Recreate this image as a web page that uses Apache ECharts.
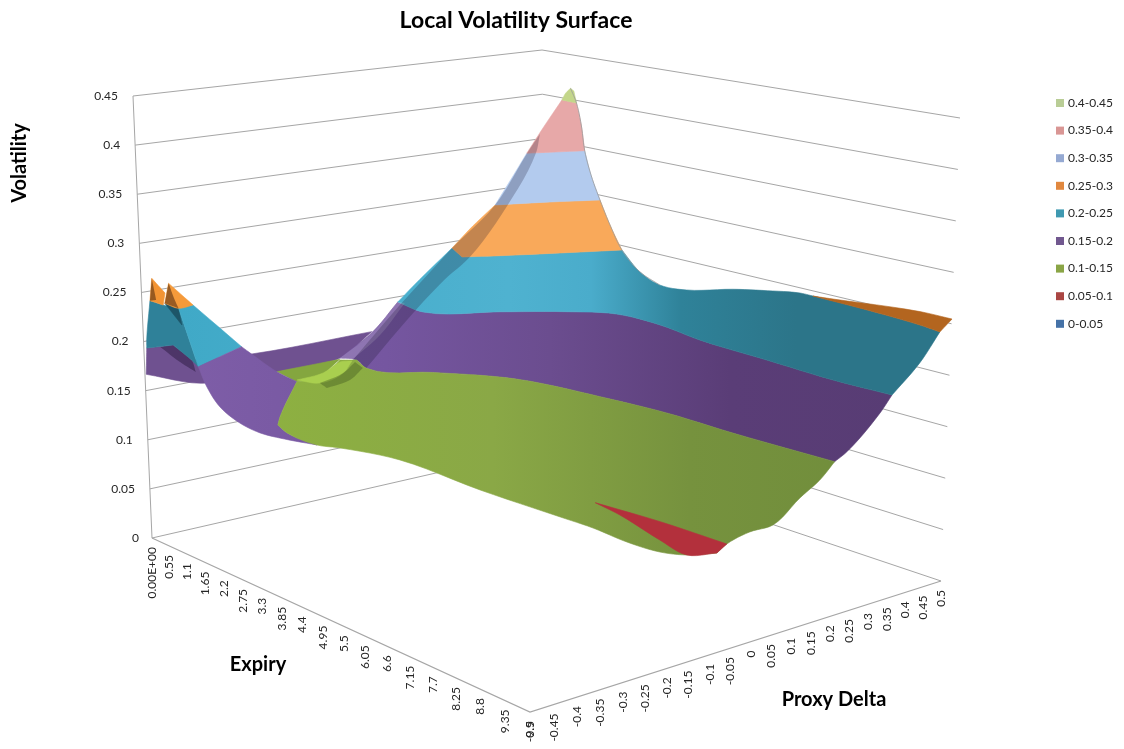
<!DOCTYPE html>
<html><head><meta charset="utf-8"><style>html,body{margin:0;padding:0;background:#fff}#c{width:1124px;height:749px}</style>
<script src="https://cdn.jsdelivr.net/npm/echarts@6/dist/echarts.min.js"></script></head>
<body><div id="c"></div><script>
// ---- axis ticks ----
const expiryLabels=['0.00E+00','0.55','1.1','1.65','2.2','2.75','3.3','3.85','4.4','4.95','5.5','6.05','6.6','7.15','7.7','8.25','8.8','9.35','9.9'];
const deltaLabels=['-0.5','-0.45','-0.4','-0.35','-0.3','-0.25','-0.2','-0.15','-0.1','-0.05','0','0.05','0.1','0.15','0.2','0.25','0.3','0.35','0.4','0.45','0.5'];
const volLabels=['0','0.05','0.1','0.15','0.2','0.25','0.3','0.35','0.4','0.45'];
const bandNames=['0.4-0.45','0.35-0.4','0.3-0.35','0.25-0.3','0.2-0.25','0.15-0.2','0.1-0.15','0.05-0.1','0-0.05'];
const bandColors=['#b9cd96','#d99694','#95a9d2','#e1883f','#3f99b1','#71588f','#8aa546','#aa4643','#4572a7'];
// ---- surface regions, each vertex is [expiry, proxy delta, volatility] ----
const rearStrip=[[0.41,-0.522,.2],[0.20,-0.511,.17],[0.72,-0.427,.16],[0.33,-0.224,.15],[0.24,-0.063,.15],[-0.14,0.049,.165],[0.71,-0.310,.18],[1.54,-0.506,.2],[0.51,-0.471,.2]];
const rearShadow=[[0.49,-0.498,.2],[0.51,-0.471,.2],[1.54,-0.506,.2],[1.68,-0.508,.19],[0.98,-0.491,.19]];
const backWingTeal=[[0.60,-0.524,.25],[1.00,-0.524,.25],[1.35,-0.516,.25],[1.97,-0.523,.2],[1.54,-0.506,.2],[0.51,-0.471,.2],[0.41,-0.522,.2],[0.52,-0.529,.21]];
const backWingOrange=[[0.47,-0.509,.27],[0.60,-0.524,.25],[1.00,-0.524,.25],[0.90,-0.512,.26]];
const backWingShade=[[0.47,-0.509,.27],[0.60,-0.524,.25],[0.62,-0.512,.25]];
const wingTealShade=[[0.91,-0.514,.25],[1.35,-0.516,.25],[1.18,-0.498,.23]];
const wingOrange=[[0.64,-0.485,.265],[1.30,-0.481,.25],[1.35,-0.516,.25],[0.91,-0.514,.25]];
const wingOrangeShade=[[0.64,-0.485,.265],[0.81,-0.485,.25],[1.35,-0.516,.25],[0.91,-0.514,.25]];
const wingTeal=[[1.35,-0.516,.25],[1.30,-0.481,.25],[1.31,-0.378,.2],[1.97,-0.523,.2]];
const wingPurple=[[1.31,-0.378,.2],[1.27,-0.353,.19],[1.41,-0.308,.17],[1.10,-0.238,.15],[2.73,-0.406,.15],[3.11,-0.441,.15],[3.58,-0.458,.15],[4.19,-0.442,.145],[3.84,-0.484,.15],[3.41,-0.503,.152],[3.14,-0.525,.16],[2.67,-0.531,.17],[2.31,-0.531,.185],[1.97,-0.523,.2]];
const backGreen=[[0.33,-0.224,.15],[0.31,-0.070,.15],[1.03,-0.178,.15],[1.10,-0.238,.15]];
const mainPurple=[[0.24,-0.063,.15],[0.44,0.003,.175],[0.33,0.077,.2],[1.22,0.063,.2],[2.05,0.184,.2],[2.78,0.289,.2],[3.46,0.353,.2],[4.53,0.357,.2],[5.73,0.332,.2],[7.39,0.321,.2],[8.94,0.310,.2],[10.13,0.315,.2],[10.10,0.289,.185],[10.05,0.212,.155],[10.10,0.175,.15],[8.00,0.165,.15],[6.48,0.165,.15],[5.05,0.146,.15],[3.61,0.118,.15],[3.01,0.091,.15],[2.06,0.012,.15],[1.11,-0.071,.15],[0.54,-0.047,.15]];
const mainTeal=[[0.33,0.077,.2],[0.91,0.084,.23],[0.43,0.211,.25],[1.14,0.172,.25],[1.48,0.240,.25],[1.97,0.352,.25],[2.47,0.470,.25],[2.65,0.501,.226],[3.23,0.495,.218],[3.93,0.494,.22],[5.06,0.496,.2325],[5.90,0.494,.24],[6.68,0.492,.246],[7.17,0.468,.25],[8.42,0.462,.25],[9.64,0.448,.25],[10.14,0.436,.25],[10.16,0.382,.225],[10.13,0.315,.2],[8.94,0.310,.2],[7.39,0.321,.2],[5.73,0.332,.2],[4.53,0.357,.2],[3.46,0.353,.2],[2.78,0.289,.2],[2.05,0.184,.2],[1.22,0.063,.2]];
const rightOrange=[[7.17,0.468,.25],[7.63,0.467,.252],[9.31,0.491,.256],[9.92,0.498,.255],[10.14,0.436,.25],[9.64,0.448,.25],[8.42,0.462,.25]];
const mainOrange=[[0.43,0.211,.25],[0.73,0.239,.275],[1.12,0.262,.3],[1.52,0.370,.3],[1.94,0.464,.3],[2.20,0.465,.275],[2.47,0.470,.25],[1.97,0.352,.25],[1.48,0.240,.25],[1.14,0.172,.25]];
const peakBlue=[[1.12,0.262,.3],[1.08,0.309,.325],[1.03,0.356,.35],[1.25,0.411,.35],[1.48,0.469,.35],[1.68,0.466,.325],[1.94,0.464,.3],[1.52,0.370,.3]];
const peakPink=[[1.03,0.356,.35],[0.93,0.412,.375],[0.75,0.480,.4],[1.18,0.477,.4],[1.19,0.489,.375],[1.48,0.469,.35],[1.25,0.411,.35]];
const peakTip=[[0.75,0.480,.4],[0.97,0.469,.41],[1.01,0.478,.415],[0.88,0.500,.41],[1.18,0.477,.4]];
const mainGreen=[[1.10,-0.238,.15],[1.15,-0.197,.15],[0.81,-0.135,.15],[0.35,-0.073,.15],[0.54,-0.047,.15],[1.11,-0.071,.15],[2.06,0.012,.15],[3.01,0.091,.15],[3.61,0.118,.15],[5.05,0.146,.15],[6.48,0.165,.15],[8.00,0.165,.15],[10.10,0.175,.15],[10.04,0.146,.135],[9.99,0.103,.122],[10.14,0.020,.108],[10.01,-0.021,.104],[10.05,-0.080,.1],[10.11,-0.110,.096],[10.04,-0.172,.1],[9.88,-0.216,.105],[9.43,-0.243,.11],[8.83,-0.257,.115],[8.33,-0.280,.12],[6.76,-0.308,.125],[5.19,-0.345,.135],[4.31,-0.402,.14],[4.19,-0.442,.145],[3.58,-0.458,.15],[3.11,-0.441,.15],[2.73,-0.406,.15]];
const lowRed=[[7.33,-0.099,.1],[8.66,-0.084,.1],[10.05,-0.080,.1],[10.11,-0.110,.096],[10.04,-0.172,.1],[9.29,-0.153,.1],[8.03,-0.113,.1]];
const foldLight=[[1.01,-0.230,.15],[0.90,-0.159,.15],[0.47,-0.082,.15],[0.54,-0.059,.15],[1.12,-0.129,.15],[1.41,-0.209,.15]];
const foldDark=[[0.63,-0.059,.15],[1.05,-0.075,.15],[1.57,-0.150,.15],[1.75,-0.220,.15],[1.41,-0.209,.15],[1.12,-0.129,.15]];
const ridgeLight=[[0.24,-0.063,.15],[0.46,0.002,.175],[0.33,0.077,.2],[0.47,0.083,.2],[0.71,-0.002,.175],[0.48,-0.054,.15]];
const ridgeDark=[[0.54,-0.059,.15],[0.54,0.064,.2],[0.55,0.142,.23],[0.43,0.211,.25],[1.12,0.262,.3],[1.04,0.356,.35],[1.09,0.386,.37],[1.11,0.373,.35],[1.26,0.282,.3],[1.23,0.184,.25],[1.22,0.118,.23],[1.12,0.049,.2],[1.09,-0.070,.15]];
const peakEdge=[[1.01,0.478,.415],[1.18,0.477,.4],[1.19,0.489,.375],[1.48,0.469,.35],[1.68,0.466,.325],[1.94,0.464,.3],[2.20,0.465,.275],[2.47,0.470,.25],[2.65,0.501,.226],[3.23,0.495,.218]];

// ---- view: corners of the box on the page (floor and 0.45 plane) ----
const floorQuad=[[152,538],[530,712],[941,581],[545,448]], topQuad=[[133,96],[528,185],[960,118],[542,50]];
const EXP_MAX=9.9, VOL_MAX=0.45;
function hom(q){const[x0,y0]=q[0],[x1,y1]=q[1],[x2,y2]=q[2],[x3,y3]=q[3];const dx1=x1-x2,dx2=x3-x2,sx=x0-x1+x2-x3,dy1=y1-y2,dy2=y3-y2,sy=y0-y1+y2-y3;const D=dx1*dy2-dx2*dy1,g=(sx*dy2-dx2*sy)/D,h=(dx1*sy-sx*dy1)/D;const a=x1-x0+g*x1,b=x3-x0+h*x3,d=y1-y0+g*y1,e=y3-y0+h*y3;return(u,v)=>{const w=g*u+h*v+1;return[(a*u+b*v+x0)/w,(d*u+e*v+y0)/w]}}
const H0=hom(floorQuad),H1=hom(topQuad);
function project(exp,delta,vol){const u=exp/EXP_MAX,v=delta+.5,t=vol/VOL_MAX,p=H0(u,v),q=H1(u,v);return[p[0]*(1-t)+q[0]*t,p[1]*(1-t)+q[1]*t]}

// round the outline through its vertices, keeping real corners sharp
function unit(a,b){const x=b[0]-a[0],y=b[1]-a[1],l=Math.hypot(x,y)||1;return[x/l,y/l,l]}
function smoothOutline(P,closed){
 const n=P.length,COS=Math.cos(38*Math.PI/180),tan=[];
 for(let i=0;i<n;i++){
  if(!closed&&(i===0||i===n-1)){tan.push(null);continue}
  const a=unit(P[(i-1+n)%n],P[i]),b=unit(P[i],P[(i+1)%n]);
  if(a[0]*b[0]+a[1]*b[1]<COS){tan.push(null);continue}
  const s=unit([0,0],[a[0]+b[0],a[1]+b[1]]);tan.push([s[0],s[1]]);
 }
 const out=[],STEPS=6,edges=closed?n:n-1;
 for(let i=0;i<edges;i++){
  const p=P[i],j=(i+1)%n,q=P[j],e=unit(p,q),L=e[2],m0=tan[i]||e,m1=tan[j]||e;
  for(let s=0;s<STEPS;s++){const t=s/STEPS,t2=t*t,t3=t2*t,h00=2*t3-3*t2+1,h10=t3-2*t2+t,h01=-2*t3+3*t2,h11=t3-t2;
   out.push([h00*p[0]+h10*L*m0[0]+h01*q[0]+h11*L*m1[0],h00*p[1]+h10*L*m0[1]+h01*q[1]+h11*L*m1[1]]);}
 }
 if(!closed)out.push(P[n-1]);
 return out;
}

const FONT='Lato, "Open Sans", sans-serif';
const ramp=(stops)=>({type:'linear',x:140,y:0,x2:960,y2:0,global:true,colorStops:stops});
const PURPLE=ramp([{offset:0,color:'#805fa9'},{offset:.3,color:'#7556a0'},{offset:.5,color:'#6b4d8f'},{offset:.72,color:'#5a3d77'},{offset:1,color:'#573c73'}]);
const TEAL=ramp([{offset:0,color:'#3ea8c6'},{offset:.45,color:'#4fb2d0'},{offset:.55,color:'#4aaccb'},{offset:.66,color:'#2f8299'},{offset:.8,color:'#2c7589'},{offset:1,color:'#2c7589'}]);
const GREEN=ramp([{offset:0,color:'#8fb53e'},{offset:.43,color:'#8aa846'},{offset:.67,color:'#76923e'},{offset:1,color:'#6e8b3a'}]);
// drawing order is back to front
const patches=[
 {b:'0.15-0.2',p:rearStrip,f:'#6f5190',e:1},
 {b:'0.15-0.2',p:rearShadow,f:'rgba(35,20,55,.45)'},
 {b:'0.1-0.15',p:backGreen,f:'#84a63f',e:1},
 {b:'0.2-0.25',p:backWingTeal,f:'#2f8199',e:1},
 {b:'0.25-0.3',p:backWingOrange,f:'#f39433',e:1},
 {b:'0.25-0.3',p:backWingShade,f:'rgba(90,50,20,.6)'},
 {b:'0.2-0.25',p:wingTealShade,f:'#1d5568',e:1},
 {b:'0.2-0.25',p:wingTeal,f:TEAL,e:1},
 {b:'0.25-0.3',p:wingOrange,f:'#f59a3a',e:1},
 {b:'0.25-0.3',p:wingOrangeShade,f:'rgba(90,50,20,.6)'},
 {b:'0.15-0.2',p:wingPurple,f:PURPLE,e:1},
 {b:'0.15-0.2',p:mainPurple,f:PURPLE,e:1},
 {b:'0.2-0.25',p:mainTeal,f:TEAL,e:1},
 {b:'0.25-0.3',p:rightOrange,f:'#b3651f',e:1},
 {b:'0.25-0.3',p:mainOrange,f:'#f9a95a',e:1},
 {b:'0.3-0.35',p:peakBlue,f:'#b3cbee',e:1},
 {b:'0.35-0.4',p:peakPink,f:'#e7a8a8',e:1},
 {b:'0.4-0.45',p:peakTip,f:'#c3d68a',e:1},
 {b:'0.15-0.2',p:ridgeLight,f:'rgba(255,255,255,.18)'},
 {b:'0.2-0.25',p:ridgeDark,f:'rgba(25,20,45,.24)'},
 {b:'0.1-0.15',p:mainGreen,f:GREEN,e:1},
 {b:'0.1-0.15',p:foldLight,f:'#a9cf4f',e:1},
 {b:'0.1-0.15',p:foldDark,f:'rgba(40,60,20,.3)'},
 {b:'0.05-0.1',p:lowRed,f:'#b3303c',e:1}
];
const LINE='#a6a6a6';
function coordAll(api,list){return list.map(v=>api.coord(project(v[0],v[1],v[2])))}
const volOf=s=>parseFloat(s);
const boxSeries={type:'custom',name:'box',silent:true,coordinateSystem:'cartesian2d',animation:false,data:volLabels.map((s,i)=>[i]),
 renderItem(params,api){const s=volLabels[api.value(0)],t=volOf(s);
  const c=[];
  const pts=[project(0,-.5,t),project(0,.5,t),project(EXP_MAX,.5,t)].map(p=>api.coord(p));
  c.push({type:'polyline',shape:{points:pts},style:{stroke:LINE,lineWidth:1,fill:'none'},z2:1});
  const a=api.coord(project(0,-.5,t));
  c.push({type:'text',x:a[0]-(t===0?13:15),y:a[1],style:{text:s,fontFamily:FONT,fontSize:12,fill:'#262626',align:'right',verticalAlign:'middle'},z2:90});
  if(t===0){
   c.push({type:'polyline',shape:{points:[project(0,-.5,0),project(EXP_MAX,-.5,0),project(EXP_MAX,.5,0)].map(p=>api.coord(p))},style:{stroke:LINE,lineWidth:1.2,fill:'none'},z2:1});
   c.push({type:'line',shape:(()=>{const p=api.coord(project(0,-.5,0)),q=api.coord(project(0,-.5,VOL_MAX));return{x1:p[0],y1:p[1],x2:q[0],y2:q[1]}})(),style:{stroke:LINE,lineWidth:1},z2:1});
  }
  return{type:'group',children:c};
 }};
const rot=(p,text)=>({type:'text',x:p[0],y:p[1]+9,rotation:Math.PI/2,style:{text,fontFamily:FONT,fontSize:12,fill:'#262626',align:'right',verticalAlign:'middle'},z2:90});
const expirySeries={type:'custom',name:'expiryTicks',silent:true,coordinateSystem:'cartesian2d',animation:false,data:expiryLabels.map((s,i)=>[i]),
 renderItem(params,api){const i=api.value(0),e=i*EXP_MAX/(expiryLabels.length-1);return rot(api.coord(project(e,-.5,0)),expiryLabels[i]);}};
const deltaSeries={type:'custom',name:'deltaTicks',silent:true,coordinateSystem:'cartesian2d',animation:false,data:deltaLabels.map((s,i)=>[i]),
 renderItem(params,api){const i=api.value(0);return rot(api.coord(project(EXP_MAX,parseFloat(deltaLabels[i]),0)),deltaLabels[i]);}};
const bandSeries=bandNames.map((name,k)=>({type:'custom',name,coordinateSystem:'cartesian2d',silent:true,animation:false,
 itemStyle:{color:bandColors[k]},
 data:patches.map((q,i)=>[i]).filter(r=>patches[r[0]].b===name),
 renderItem(params,api){const i=api.value(0),q=patches[i];
  return{type:'polygon',shape:{points:smoothOutline(coordAll(api,q.p),true)},style:{fill:q.f,stroke:q.e?q.f:'none',lineWidth:q.e?.6:0},z2:10+i};}}));
const edgeSeries={type:'custom',name:'edge',silent:true,coordinateSystem:'cartesian2d',animation:false,data:[[0]],
 renderItem(params,api){return{type:'polyline',shape:{points:smoothOutline(coordAll(api,peakEdge),false)},style:{stroke:'#9a9a9a',lineWidth:.8,fill:'none'},z2:60};}};

const chart=echarts.init(document.getElementById('c'),null,{renderer:'canvas'});
chart.setOption({
 animation:false,backgroundColor:'#fff',
 title:{text:'Local Volatility Surface',left:516,top:9,padding:0,textAlign:'center',textStyle:{fontFamily:FONT,fontWeight:'bold',fontSize:23,color:'#000'}},
 grid:{left:0,right:0,top:0,bottom:0,show:false},
 xAxis:{type:'value',min:0,max:1124,show:false},
 yAxis:{type:'value',min:0,max:749,inverse:true,show:false},
 legend:{data:bandNames,orient:'vertical',left:1056,top:97,itemWidth:8,itemHeight:8,itemGap:15.6,icon:'rect',selectedMode:false,textStyle:{fontFamily:FONT,fontSize:12,color:'#262626',padding:[0,0,0,-1]},padding:0},
 graphic:[
  {type:'text',x:20,y:163,rotation:Math.PI/2,style:{text:'Volatility',fontFamily:FONT,fontWeight:'bold',fontSize:20,fill:'#000',align:'center',verticalAlign:'middle'}},
  {type:'text',x:258,y:665,style:{text:'Expiry',fontFamily:FONT,fontWeight:'bold',fontSize:20,fill:'#000',align:'center',verticalAlign:'middle'}},
  {type:'text',x:834,y:700,style:{text:'Proxy Delta',fontFamily:FONT,fontWeight:'bold',fontSize:20,fill:'#000',align:'center',verticalAlign:'middle'}}
 ],
 series:[boxSeries,expirySeries,deltaSeries,...bandSeries,edgeSeries]
});
</script></body></html>
